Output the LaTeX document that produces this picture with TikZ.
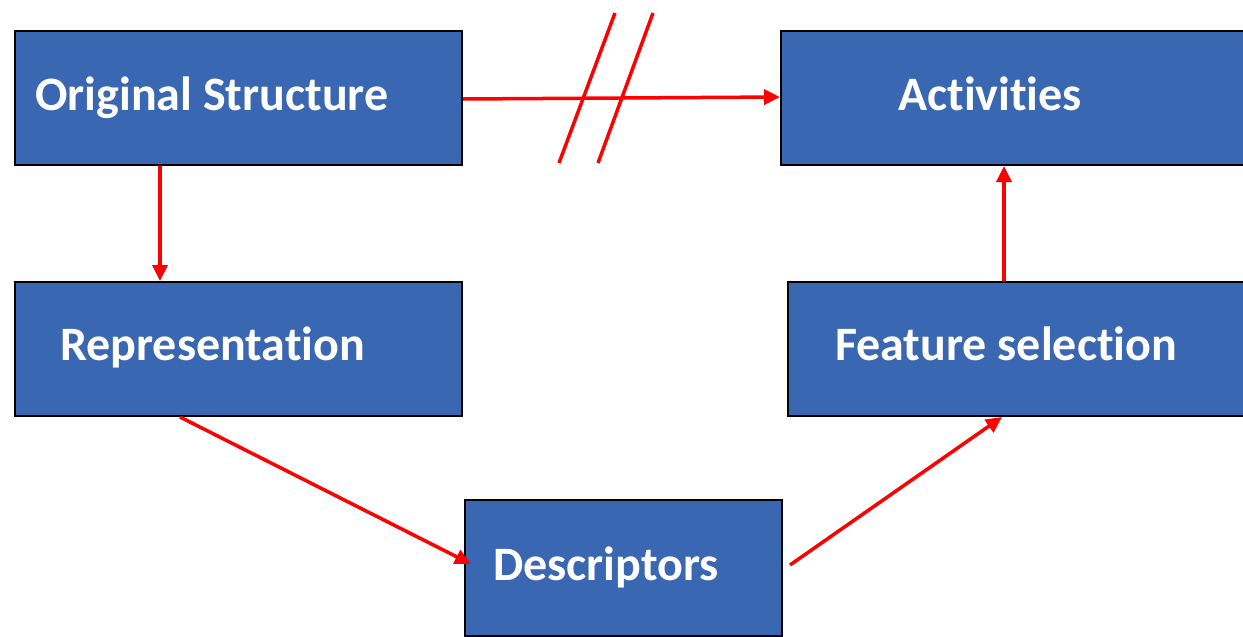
\documentclass[tikz,border=0pt]{standalone}
\usepackage{fontspec}
\setmainfont[Ligatures=NoCommon]{Carlito}
\usetikzlibrary{arrows.meta}
\definecolor{boxblue}{RGB}{58,103,178}
\definecolor{linkred}{RGB}{255,0,0}
\tikzset{
  box/.style={draw=black, line width=2pt, fill=boxblue, rectangle, inner sep=0pt, anchor=north west},
  lbl/.style={anchor=base west, inner sep=0pt, text=white, font=\fontsize{48}{58}\selectfont\bfseries},
  link/.style={draw=linkred, line width=3.5pt, -{Triangle[length=16pt,width=15pt]}},
  cut/.style={draw=linkred, line width=3.5pt}
}
\begin{document}
\begin{tikzpicture}[x=1pt, y=-1pt]
  \useasboundingbox (0,0) rectangle (1243,637);
  \clip (0,0) rectangle (1243,637);

  % boxes
  \node[box, minimum width=447pt, minimum height=134pt] (orig) at (14,30) {};
  \node[box, minimum width=480pt, minimum height=134pt] (act)  at (780,30) {};
  \node[box, minimum width=447pt, minimum height=134pt] (rep)  at (14,281) {};
  \node[box, minimum width=473pt, minimum height=134pt] (feat) at (787,281) {};
  \node[box, minimum width=317pt, minimum height=136pt] (desc) at (464,499) {};

  % labels
  \node[lbl] (torig) at (35,110)  {Original Structure};
  \node[lbl] (tact)  at (898,110) {Activities};
  \node[lbl] (trep)  at (60,360)  {Representation};
  \node[lbl] (tfeat) at (835,360) {Feature selection};
  \node[lbl] (tdesc) at (493,580) {Descriptors};

  % connectors
  \draw[link] ([yshift=-1pt]orig.east) -- ([yshift=1pt]act.west);
  \draw[link] ([xshift=146pt]orig.south west) -- ([xshift=146pt]rep.north west);
  \draw[link] ([xshift=166pt]rep.south west) -- ([xshift=7pt,yshift=4pt]desc.west);
  \draw[link] ([xshift=7pt,yshift=3pt]desc.east) -- ([xshift=215pt]feat.south west);
  \draw[link] ([xshift=217pt]feat.north west) -- ([xshift=224pt]act.south west);

  % strike marks on the top link
  \coordinate (s1a) at (615,13);
  \coordinate (s1b) at (559,163);
  \coordinate (s2a) at (653,13);
  \coordinate (s2b) at (598,163);
  \draw[cut] (s1a) -- (s1b);
  \draw[cut] (s2a) -- (s2b);
\end{tikzpicture}
\end{document}
